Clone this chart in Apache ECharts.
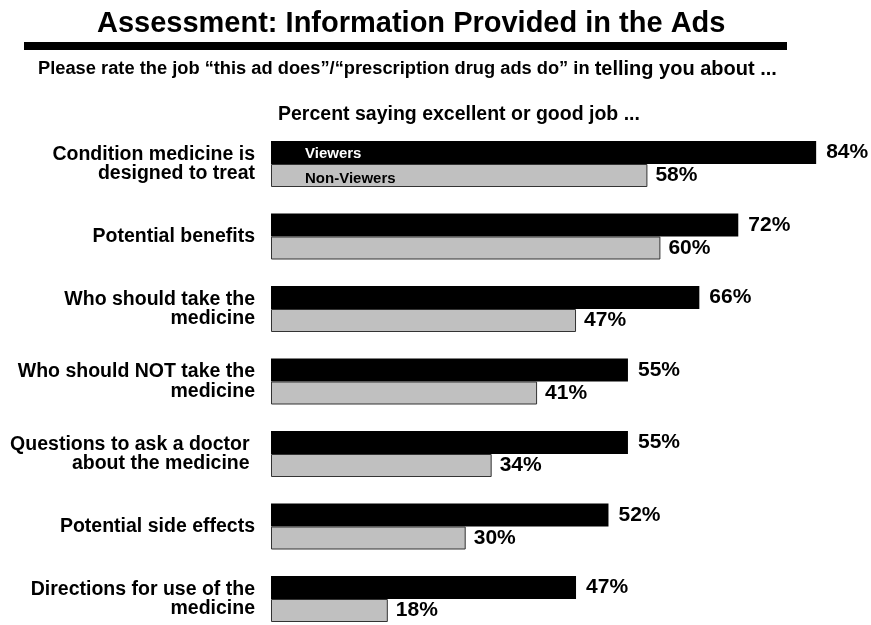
<!DOCTYPE html>
<html>
<head>
<meta charset="utf-8">
<style>
  html, body { margin: 0; padding: 0; background: #fff; }
  #chart { width: 871px; height: 625px; }
</style>
<script src="https://cdn.jsdelivr.net/npm/echarts@6/dist/echarts.min.js"></script>
</head>
<body>
<div id="chart"></div>
<script>
// Items rated, top to bottom
const categories = [
  'Condition medicine is\ndesigned to treat',
  'Potential benefits',
  'Who should take the\nmedicine',
  'Who should NOT take the\nmedicine',
  'Questions to ask a doctor \nabout the medicine ',
  'Potential side effects',
  'Directions for use of the\nmedicine'
];
// Percent saying excellent or good job
const viewers = [84, 72, 66, 55, 55, 52, 47];
const nonViewers = [58, 60, 47, 41, 34, 30, 18];
const seriesNames = ['Viewers', 'Non-Viewers'];

const FONT = '"Liberation Sans", Arial, Helvetica, sans-serif';

const chart = echarts.init(document.getElementById('chart'), null, { renderer: 'canvas' });

chart.setOption({
  animation: false,
  backgroundColor: '#ffffff',
  textStyle: { fontFamily: FONT },
  title: [
    {
      text: 'Assessment: Information Provided in the Ads',
      left: 97, top: 9, padding: 0,
      textStyle: { fontFamily: FONT, fontSize: 29, fontWeight: 'bold', color: '#000' }
    },
    {
      text: '{a|Please rate the job \u201cthis ad does\u201d/\u201cprescription drug ads do\u201d in }{b|telling you about ...}',
      left: 38, top: 59, padding: 0,
      textStyle: {
        fontFamily: FONT, fontSize: 18.3, fontWeight: 'bold', color: '#000',
        rich: {
          a: { fontFamily: FONT, fontSize: 18.3, fontWeight: 'bold', color: '#000' },
          b: { fontFamily: FONT, fontSize: 20, fontWeight: 'bold', color: '#000' }
        }
      }
    },
    {
      text: 'Percent saying excellent or good job ...',
      left: 278, top: 105, padding: 0,
      textStyle: { fontFamily: FONT, fontSize: 19.5, fontWeight: 'bold', color: '#000' }
    }
  ],
  graphic: [
    // heavy rule under the heading
    { type: 'rect', shape: { x: 24, y: 42, width: 763, height: 8 }, style: { fill: '#000' } }
  ],
  legend: {
    orient: 'vertical',
    left: 299, top: 146.5, padding: 0,
    itemWidth: 0, itemHeight: 14, itemGap: 9.5,
    selectedMode: false,
    itemStyle: { opacity: 0 },
    data: [
      { name: seriesNames[0], textStyle: { color: '#fff' } },
      { name: seriesNames[1], textStyle: { color: '#000' } }
    ],
    textStyle: { fontFamily: FONT, fontSize: 15, fontWeight: 'bold' }
  },
  grid: {
    left: 271, top: 127.75, width: 649, height: 507.5,
    containLabel: false, outerBoundsMode: 'none'
  },
  xAxis: {
    type: 'value', min: 0, max: 100,
    axisLine: { show: false }, axisTick: { show: false },
    axisLabel: { show: false }, splitLine: { show: false }
  },
  yAxis: {
    type: 'category', inverse: true, data: categories,
    axisLine: { show: false }, axisTick: { show: false }, splitLine: { show: false },
    axisLabel: {
      margin: 16, align: 'right',
      fontFamily: FONT, fontSize: 19.5, fontWeight: 'bold', color: '#000', lineHeight: 19.5
    }
  },
  series: [
    {
      name: seriesNames[0], type: 'bar', data: viewers,
      barWidth: 23, barGap: 0,
      itemStyle: { color: '#000' },
      label: {
        show: true, position: 'right', distance: 10, formatter: '{c}%',
        fontFamily: FONT, fontSize: 21, fontWeight: 'bold', color: '#000'
      }
    },
    {
      name: seriesNames[1], type: 'bar', data: nonViewers,
      barWidth: 23, barGap: 0,
      itemStyle: { color: '#c0c0c0', borderColor: '#333', borderWidth: 1 },
      label: {
        show: true, position: 'right', distance: 8, formatter: '{c}%',
        fontFamily: FONT, fontSize: 21, fontWeight: 'bold', color: '#000'
      }
    }
  ]
});
</script>
</body>
</html>
